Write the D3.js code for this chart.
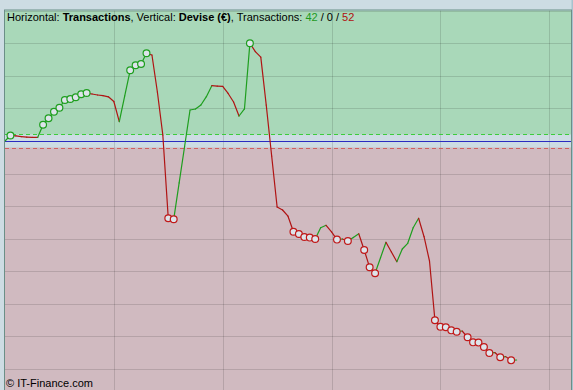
<!DOCTYPE html>
<html>
<head>
<meta charset="utf-8">
<script src="https://cdn.jsdelivr.net/npm/d3@7"></script>
<style>
    html, body { margin: 0; padding: 0; background: #cddce3; }
    #chart { width: 573px; height: 390px; }
    text { font-family: "Liberation Sans", Arial, sans-serif; }
</style>
</head>
<body>
<div id="chart"></div>
<script>
// Equity after each transaction (index = transaction number, 0 = start)
var equity = [
    0, 16.9, 16.0, 13.5, 11.7, 11.4, 11.1, 50.2, 69.8, 90.2,
    102.5, 126.2, 129.2, 134.5, 143.7, 147.7, 144.6, 141.5, 139.4, 136.0,
    121.5, 59.4, 138.5, 217.5, 232.9, 236.9, 269.8, 264.6, 150.8, 18.5,
    -237.8, -240.9, -128.9, -16.9, 95.4, 98.5, 110.8, 136.3, 170.2, 168.6,
    168.0, 146.2, 120.0, 76.9, 98.5, 300.6, 274.8, 258.2, 110.8, -46.2,
    -203.1, -212.3, -231.4, -279.4, -286.2, -295.4, -297.2, -301.5, -267.1, -259.4,
    -279.4, -303.4, -301.5, -307.7, -296.9, -285.5, -335.4, -388.6, -407.1, -359.1,
    -311.7, -341.5, -371.4, -332.3, -314.8, -266.8, -237.8, -294.5, -369.2, -551.7,
    -571.7, -573.2, -582.5, -586.8, -584.6, -604.0, -619.4, -620.3, -633.8, -652.3,
    -650.8, -665.5, -663.4, -674.8, -673.8
];

// Tolerance band around zero
var upperBand = 20;
var lowerBand = -20;

// Grid steps and axis extents
var xDomain = [0, 104];
var xTicks = [20, 40, 60, 80, 100];
var yDomain = [-763, 401.5];
var yTicks = [-700, -600, -500, -400, -300, -200, -100, 100, 200, 300, 400];

// Title parts
var titleParts = [
    {text: "Horizontal: ", weight: "normal", color: "#000"},
    {text: "Transactions", weight: "bold", color: "#000"},
    {text: ", Vertical: ", weight: "normal", color: "#000"},
    {text: "Devise (\u20ac)", weight: "bold", color: "#000"},
    {text: ", Transactions: ", weight: "normal", color: "#000"},
    {text: "42", weight: "normal", color: "#1e9a1e"},
    {text: " / ", weight: "normal", color: "#000"},
    {text: "0", weight: "normal", color: "#000"},
    {text: " / ", weight: "normal", color: "#000"},
    {text: "52", weight: "normal", color: "#b01010"}
];
var copyright = "\u00a9 IT-Finance.com";

var width = 573, height = 390;
var plotLeft = 5, plotRight = 571, plotTop = 10.5, plotBottom = 389;

var svg = d3.select("#chart").append("svg")
    .attr("width", width)
    .attr("height", height);

var x = d3.scaleLinear().domain(xDomain).range([plotLeft, plotRight]);
var y = d3.scaleLinear().domain(yDomain).range([plotBottom, plotTop]);

// Right edge strip
svg.append("rect")
    .attr("x", plotRight + 0.5).attr("y", 0)
    .attr("width", width - plotRight).attr("height", height)
    .style("fill", "#a8c2ce");

// Green zone above the band, red zone below
svg.append("rect")
    .attr("x", plotLeft).attr("y", plotTop)
    .attr("width", plotRight - plotLeft).attr("height", y(upperBand) - plotTop)
    .style("fill", "#a9d8b9");
svg.append("rect")
    .attr("x", plotLeft).attr("y", y(lowerBand))
    .attr("width", plotRight - plotLeft).attr("height", plotBottom - y(lowerBand) + 2)
    .style("fill", "#d0bac0");

// Grid
var grid = svg.append("g");
grid.selectAll("line.v")
    .data(xTicks)
    .enter()
    .append("line")
    .attr("x1", function(d) { return Math.round(x(d)) + 0.5; })
    .attr("x2", function(d) { return Math.round(x(d)) + 0.5; })
    .attr("y1", plotTop)
    .attr("y2", plotBottom + 2)
    .style("stroke", "#000")
    .style("stroke-opacity", 0.13);
grid.selectAll("line.h")
    .data(yTicks)
    .enter()
    .append("line")
    .attr("x1", plotLeft)
    .attr("x2", plotRight)
    .attr("y1", function(d) { return Math.round(y(d)) + 0.5; })
    .attr("y2", function(d) { return Math.round(y(d)) + 0.5; })
    .style("stroke", "#000")
    .style("stroke-opacity", 0.13);

// Band limits and zero line
svg.append("line")
    .attr("x1", plotLeft).attr("x2", plotRight)
    .attr("y1", Math.round(y(upperBand)) + 0.5).attr("y2", Math.round(y(upperBand)) + 0.5)
    .style("stroke", "#3ccc3c")
    .style("stroke-dasharray", "4,3");
svg.append("line")
    .attr("x1", plotLeft).attr("x2", plotRight)
    .attr("y1", Math.round(y(lowerBand)) + 0.5).attr("y2", Math.round(y(lowerBand)) + 0.5)
    .style("stroke", "#d06060")
    .style("stroke-dasharray", "4,3");
svg.append("line")
    .attr("x1", plotLeft).attr("x2", plotRight)
    .attr("y1", Math.round(y(0)) + 0.5).attr("y2", Math.round(y(0)) + 0.5)
    .style("stroke", "#2c2cc0")
    .style("stroke-width", 1.2);

// Equity segments, green when rising, red when falling
var segments = d3.pairs(equity.map(function(v, i) { return {i: i, v: v}; }));
svg.append("g").selectAll("line")
    .data(segments)
    .enter()
    .append("line")
    .attr("x1", function(d) { return x(d[0].i); })
    .attr("y1", function(d) { return y(d[0].v); })
    .attr("x2", function(d) { return x(d[1].i); })
    .attr("y2", function(d) { return y(d[1].v); })
    .style("stroke", function(d) { return d[1].v >= d[0].v ? "#1e9e1e" : "#b01414"; })
    .style("stroke-width", 1.2)
    .style("stroke-linecap", "round");

// Mark new highs (in profit) and new lows (in loss)
var marks = [];
var hi = equity[0], lo = equity[0];
equity.forEach(function(v, i) {
    if (i === 0) return;
    if (v > 0 && v > hi) marks.push({i: i, v: v, up: true});
    if (v < 0 && v < lo) marks.push({i: i, v: v, up: false});
    hi = Math.max(hi, v);
    lo = Math.min(lo, v);
});
svg.append("g").selectAll("circle")
    .data(marks)
    .enter()
    .append("circle")
    .attr("cx", function(d) { return x(d.i); })
    .attr("cy", function(d) { return y(d.v); })
    .attr("r", 3.4)
    .style("fill", "#dde4ea")
    .style("stroke", function(d) { return d.up ? "#1e9e1e" : "#c01818"; })
    .style("stroke-width", 1.2);

// Title
var title = svg.append("text")
    .attr("x", 7)
    .attr("y", 21)
    .style("font-size", "11px");
title.selectAll("tspan")
    .data(titleParts)
    .enter()
    .append("tspan")
    .style("font-weight", function(d) { return d.weight; })
    .style("fill", function(d) { return d.color; })
    .attr("xml:space", "preserve")
    .text(function(d) { return d.text; });

// Copyright
svg.append("text")
    .attr("x", 6)
    .attr("y", 387)
    .style("font-size", "11px")
    .style("fill", "#000")
    .text(copyright);

// Plot border
svg.append("rect")
    .attr("x", plotLeft - 0.5).attr("y", plotTop - 0.5)
    .attr("width", plotRight - plotLeft + 1).attr("height", plotBottom - plotTop + 10)
    .style("fill", "none")
    .style("stroke", "#6b8f87")
    .style("stroke-width", 1);
</script>
</body>
</html>
